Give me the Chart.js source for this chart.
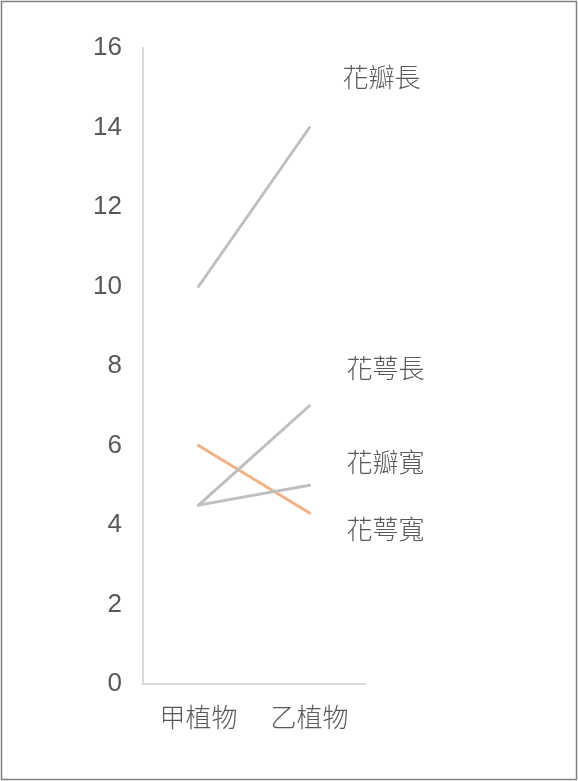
<!DOCTYPE html>
<html>
<head>
<meta charset="utf-8">
<script src="https://cdn.jsdelivr.net/npm/chart.js@4"></script>
<style>
  html, body { margin: 0; padding: 0; background: #ffffff; }
  #wrap { position: relative; width: 578px; height: 781px; }
  canvas { display: block; }
</style>
</head>
<body>
<div id="wrap"><canvas id="c" width="578" height="781"></canvas></div>
<script>
// ---- data ----
const categories = ['甲植物', '乙植物'];
const seriesNames = ['花瓣長', '花萼長', '花瓣寬', '花萼寬'];
const petalLength = [10, 14];
const sepalLength = [4.5, 7];
const petalWidth = [4.5, 5];
const sepalWidth = [6, 4.3];
const labelValues = [15.26, 7.95, 5.57, 3.9]; // vertical anchor of each end label (data units)
const yTicks = [0, 2, 4, 6, 8, 10, 12, 14, 16];

const GRAY = '#BFBFBF';
const ORANGE = '#F4B183';
const TEXT = '#595959';
const CJK = '"Noto Sans CJK TC", "Noto Sans CJK SC", sans-serif';

const seriesData = [petalLength, sepalLength, petalWidth, sepalWidth];
const seriesColors = [GRAY, GRAY, GRAY, ORANGE];

const endLabels = {
  id: 'endLabels',
  afterDatasetsDraw(chart) {
    const ctx = chart.ctx;
    const xs = chart.scales.x, ys = chart.scales.y;
    const x0 = xs.getPixelForValue(categories.length - 1);
    ctx.save();
    ctx.fillStyle = TEXT;
    ctx.font = '300 26px ' + CJK;
    ctx.textAlign = 'left';
    ctx.textBaseline = 'middle';
    seriesNames.forEach((n, i) => {
      const dx = i === 0 ? 33 : 37;
      ctx.fillText(n, x0 + dx, ys.getPixelForValue(labelValues[i]));
    });
    ctx.restore();
  }
};

const frame = {
  id: 'frame',
  afterDraw(chart) {
    const ctx = chart.ctx;
    ctx.save();
    ctx.strokeStyle = '#7F7F7F';
    ctx.lineWidth = 1.5;
    ctx.strokeRect(1.5, 1.5, 575, 778);
    ctx.restore();
  }
};

new Chart(document.getElementById('c'), {
  type: 'line',
  data: {
    labels: categories,
    datasets: seriesNames.map((n, i) => ({
      label: n,
      data: seriesData[i],
      borderColor: seriesColors[i],
      backgroundColor: seriesColors[i],
      borderWidth: 3,
      pointRadius: 0,
      pointHoverRadius: 0,
      fill: false,
      tension: 0,
      borderCapStyle: 'round'
    }))
  },
  options: {
    responsive: false,
    animation: false,
    devicePixelRatio: 1,
    layout: { padding: { left: 0, right: 213, top: 48, bottom: 0 } },
    plugins: {
      legend: { display: false },
      tooltip: { enabled: false },
      title: { display: false }
    },
    scales: {
      x: {
        type: 'category',
        offset: true,
        grid: { display: false, drawTicks: false },
        border: { display: true, color: '#D9D9D9', width: 2 },
        ticks: {
          color: TEXT,
          font: { family: CJK, size: 26, weight: '300' },
          padding: 18,
          maxRotation: 0
        },
        afterFit(s) { s.height = 97; }
      },
      y: {
        min: 0,
        max: 16,
        afterBuildTicks(s) { s.ticks = yTicks.map(v => ({ value: v })); },
        grid: { display: false, drawTicks: false },
        border: { display: true, color: '#D9D9D9', width: 2 },
        ticks: {
          color: TEXT,
          font: { family: 'Liberation Sans, Arial, sans-serif', size: 26 },
          padding: 21
        },
        afterFit(s) { s.width = 143; }
      }
    }
  },
  plugins: [endLabels, frame]
});
</script>
</body>
</html>
